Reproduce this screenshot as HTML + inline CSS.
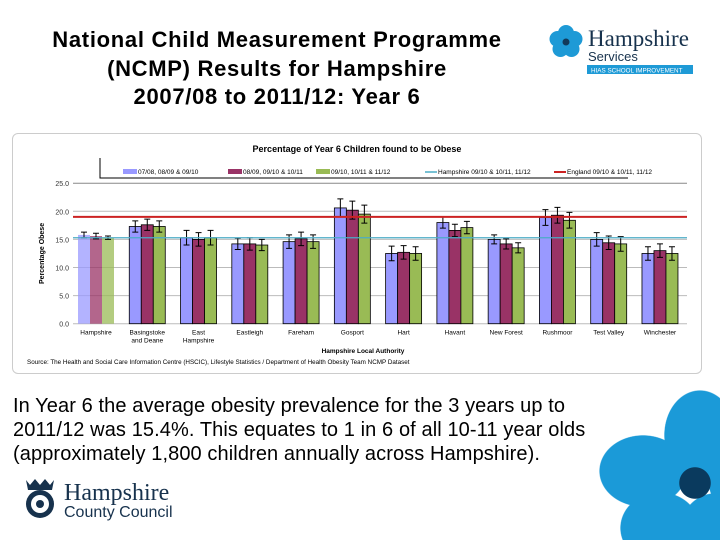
<!DOCTYPE html>
<html><head><meta charset="utf-8">
<style>
html,body{margin:0;width:720px;height:540px;overflow:hidden}
body{background:#fff;position:relative;font-family:"Liberation Sans",sans-serif}
.title{position:absolute;left:7px;width:540px;top:26px;text-align:center;font-size:22px;letter-spacing:0.7px;font-weight:bold;line-height:28.5px;color:#000;white-space:nowrap}
.para{position:absolute;left:13px;top:394px;width:620px;font-size:20px;letter-spacing:0.1px;line-height:24px;color:#000;white-space:nowrap}
.flower{position:absolute;left:590px;top:390px;width:130px;height:150px;
background:
radial-gradient(circle 16px at 105px 93px,#0a3a5e 97%,transparent 100%),
radial-gradient(ellipse 36px 45px at 110px 45px,#1b9ad8 98%,transparent 100%),
radial-gradient(ellipse 44px 36px at 53px 81px,#1b9ad8 98%,transparent 100%),
radial-gradient(ellipse 40px 36px at 70px 138px,#1b9ad8 98%,transparent 100%),
radial-gradient(ellipse 36px 40px at 125px 143px,#1b9ad8 98%,transparent 100%),
radial-gradient(ellipse 35px 42px at 153px 88px,#1b9ad8 98%,transparent 100%);}
</style></head><body>
<div class="title">National Child Measurement Programme<br>(NCMP) Results for Hampshire<br>2007/08 to 2011/12: Year 6</div>

<svg style="position:absolute;left:545px;top:18px" width="170" height="62">
 <g transform="translate(21,24)" fill="#1e9ad6">
  <circle cx="0" cy="-9" r="8"/><circle cx="8.5" cy="-3" r="8"/><circle cx="5.5" cy="7" r="8"/><circle cx="-5.5" cy="7" r="8"/><circle cx="-8.5" cy="-3" r="8"/>
  <circle r="3.5" fill="#123a5a"/>
 </g>
 <text x="43" y="28" font-family="Liberation Serif,serif" font-size="23" fill="#17324d">Hampshire</text>
 <text x="43" y="43" font-size="13" fill="#17324d">Services</text>
 <rect x="42" y="47" width="106" height="9" fill="#1e9ad6"/>
 <text x="46" y="54.5" font-size="6.3" fill="#fff">HIAS SCHOOL IMPROVEMENT</text>
</svg>

<div style="position:absolute;left:12px;top:133px;width:688px;height:239px;border:1px solid #ccc;border-radius:6px">
<svg id="chart" width="688" height="239" style="position:absolute;left:0;top:0"></svg>
</div>

<div class="para">In Year 6 the average obesity prevalence for the 3 years up to<br>2011/12 was 15.4%. This equates to 1 in 6 of all 10-11 year olds<br>(approximately 1,800 children annually across Hampshire).</div>

<svg style="position:absolute;left:20px;top:476px" width="170" height="48">
 <path d="M6 4 L10 9 L15 3 L20 9 L25 3 L30 9 L34 4 L32 14 L8 14 Z" fill="#17324d"/>
 <circle cx="20" cy="28" r="14" fill="#17324d"/><circle cx="20" cy="28" r="9" fill="#fff"/><circle cx="20" cy="28" r="4" fill="#17324d"/>
 <text x="44" y="24" font-family="Liberation Serif,serif" font-size="24" fill="#17324d">Hampshire</text>
 <text x="44" y="41" font-size="16" fill="#17324d">County Council</text>
</svg>

<div class="flower"></div>

<script>
const categories=["Hampshire","Basingstoke and Deane","East Hampshire","Eastleigh","Fareham","Gosport","Hart","Havant","New Forest","Rushmoor","Test Valley","Winchester"];
const series1=[15.8,17.3,15.3,14.2,14.6,20.6,12.5,18.0,15.0,18.9,15.0,12.5];
const series2=[15.6,17.6,15.0,14.2,15.1,20.2,12.7,16.6,14.2,19.3,14.4,13.0];
const series3=[15.3,17.3,15.3,14.0,14.6,19.5,12.5,17.1,13.5,18.4,14.2,12.5];
const err1=[0.5,1.0,1.3,1.0,1.2,1.6,1.3,1.0,0.8,1.4,1.2,1.2];
const err2=[0.5,1.0,1.2,1.1,1.2,1.6,1.2,1.1,0.9,1.4,1.2,1.2];
const err3=[0.3,1.0,1.3,1.0,1.2,1.6,1.2,1.1,0.9,1.4,1.3,1.2];
const hampshireAvg=[15.3];
const englandAvg=[19.0];
const yTicks=[0,5,10,15,20,25];
const yTickLabels=["0.0","5.0","10.0","15.0","20.0","25.0"];
const seriesNames=["07/08, 08/09 & 09/10","08/09, 09/10 & 10/11","09/10, 10/11 & 11/12"];
const colors=["#9999ff","#993366","#99bb55"];

const NS="http://www.w3.org/2000/svg";
const svg=document.getElementById('chart');
function el(t,a,txt){const e=document.createElementNS(NS,t);for(const k in a)e.setAttribute(k,a[k]);if(txt!=null)e.textContent=txt;svg.appendChild(e);return e;}
const ox=12,oy=133;
const x0=72-ox,x1=686-ox;
function y(v){return (322.7-oy)-v*5.62;}
function xc(i){return (95-ox)+i*51.27;}
const bw=12;

let t=el('text',{x:344,y:18,'font-size':9,'font-weight':'bold','text-anchor':'middle'},'Percentage of Year 6 Children found to be Obese');


let lb=el('path',{d:'M87 24 V44 H615',stroke:'#000',fill:'none','stroke-width':1});

const lx=[110,215,303];
for(let s=0;s<3;s++){
 let r=el('rect',{x:lx[s],y:35,width:14,height:5,fill:colors[s]});
 
 let tx=el('text',{x:lx[s]+15,y:40,'font-size':6.5},seriesNames[s]);
 
}
let l1=el('line',{x1:412,x2:424,y1:38,y2:38,stroke:'#4bacc6','stroke-width':1.5});

let l1t=el('text',{x:425,y:40,'font-size':6.5},'Hampshire 09/10 & 10/11, 11/12');

let l2=el('line',{x1:541,x2:553,y1:38,y2:38,stroke:'#cc2222','stroke-width':2});

let l2t=el('text',{x:554,y:40,'font-size':6.5},'England 09/10 & 10/11, 11/12');


for(let i=0;i<yTicks.length;i++){
 let g=el('line',{x1:x0,x2:x1,y1:y(yTicks[i]),y2:y(yTicks[i]),stroke:i===5?'#888':'#bbb','stroke-width':1});
 
 let tl=el('text',{x:x0-4,y:y(yTicks[i])+3,'font-size':7,'text-anchor':'end',fill:'#333'},yTickLabels[i]);
 
}
let yt=el('text',{x:0,y:0,'font-size':7,'font-weight':'bold','text-anchor':'middle',transform:'translate(31,'+y(12.5)+') rotate(-90)'},'Percentage Obese');


const all=[series1,series2,series3],errs=[err1,err2,err3];
for(let i=0;i<categories.length;i++){
 for(let s=0;s<3;s++){
  const cx=xc(i)+(s-1)*bw, v=all[s][i];
  let b=el('rect',{x:cx-bw/2,y:y(v),width:bw,height:y(0)-y(v),fill:colors[s],stroke:i===0?'none':'#000','stroke-width':0.8,opacity:i===0?0.75:1});
  
  
  const e=errs[s][i];
  let eb=el('path',{d:`M${cx} ${y(v+e)} V${y(v-e)} M${cx-3} ${y(v+e)} H${cx+3} M${cx-3} ${y(v-e)} H${cx+3}`,stroke:'#000','stroke-width':1,fill:'none'});
  
 }
 const words=categories[i]==="Basingstoke and Deane"?["Basingstoke","and Deane"]:categories[i]==="East Hampshire"?["East","Hampshire"]:[categories[i]];
 words.forEach((w,k)=>{
  let c=el('text',{x:xc(i),y:y(0)+11+k*8,'font-size':6.5,'text-anchor':'middle'},w);
  
 });
}
let hl=el('line',{x1:x0,x2:x1,y1:y(hampshireAvg[0]),y2:y(hampshireAvg[0]),stroke:'#4bacc6','stroke-width':1.3});

let enl=el('line',{x1:x0,x2:x1,y1:y(englandAvg[0]),y2:y(englandAvg[0]),stroke:'#cc2222','stroke-width':2});

let xt=el('text',{x:350,y:219,'font-size':6.5,'font-weight':'bold','text-anchor':'middle'},'Hampshire Local Authority');

let src=el('text',{x:14,y:230,'font-size':6.3},'Source: The Health and Social Care Information Centre (HSCIC), Lifestyle Statistics / Department of Health Obesity Team NCMP Dataset');

</script>
</body></html>
